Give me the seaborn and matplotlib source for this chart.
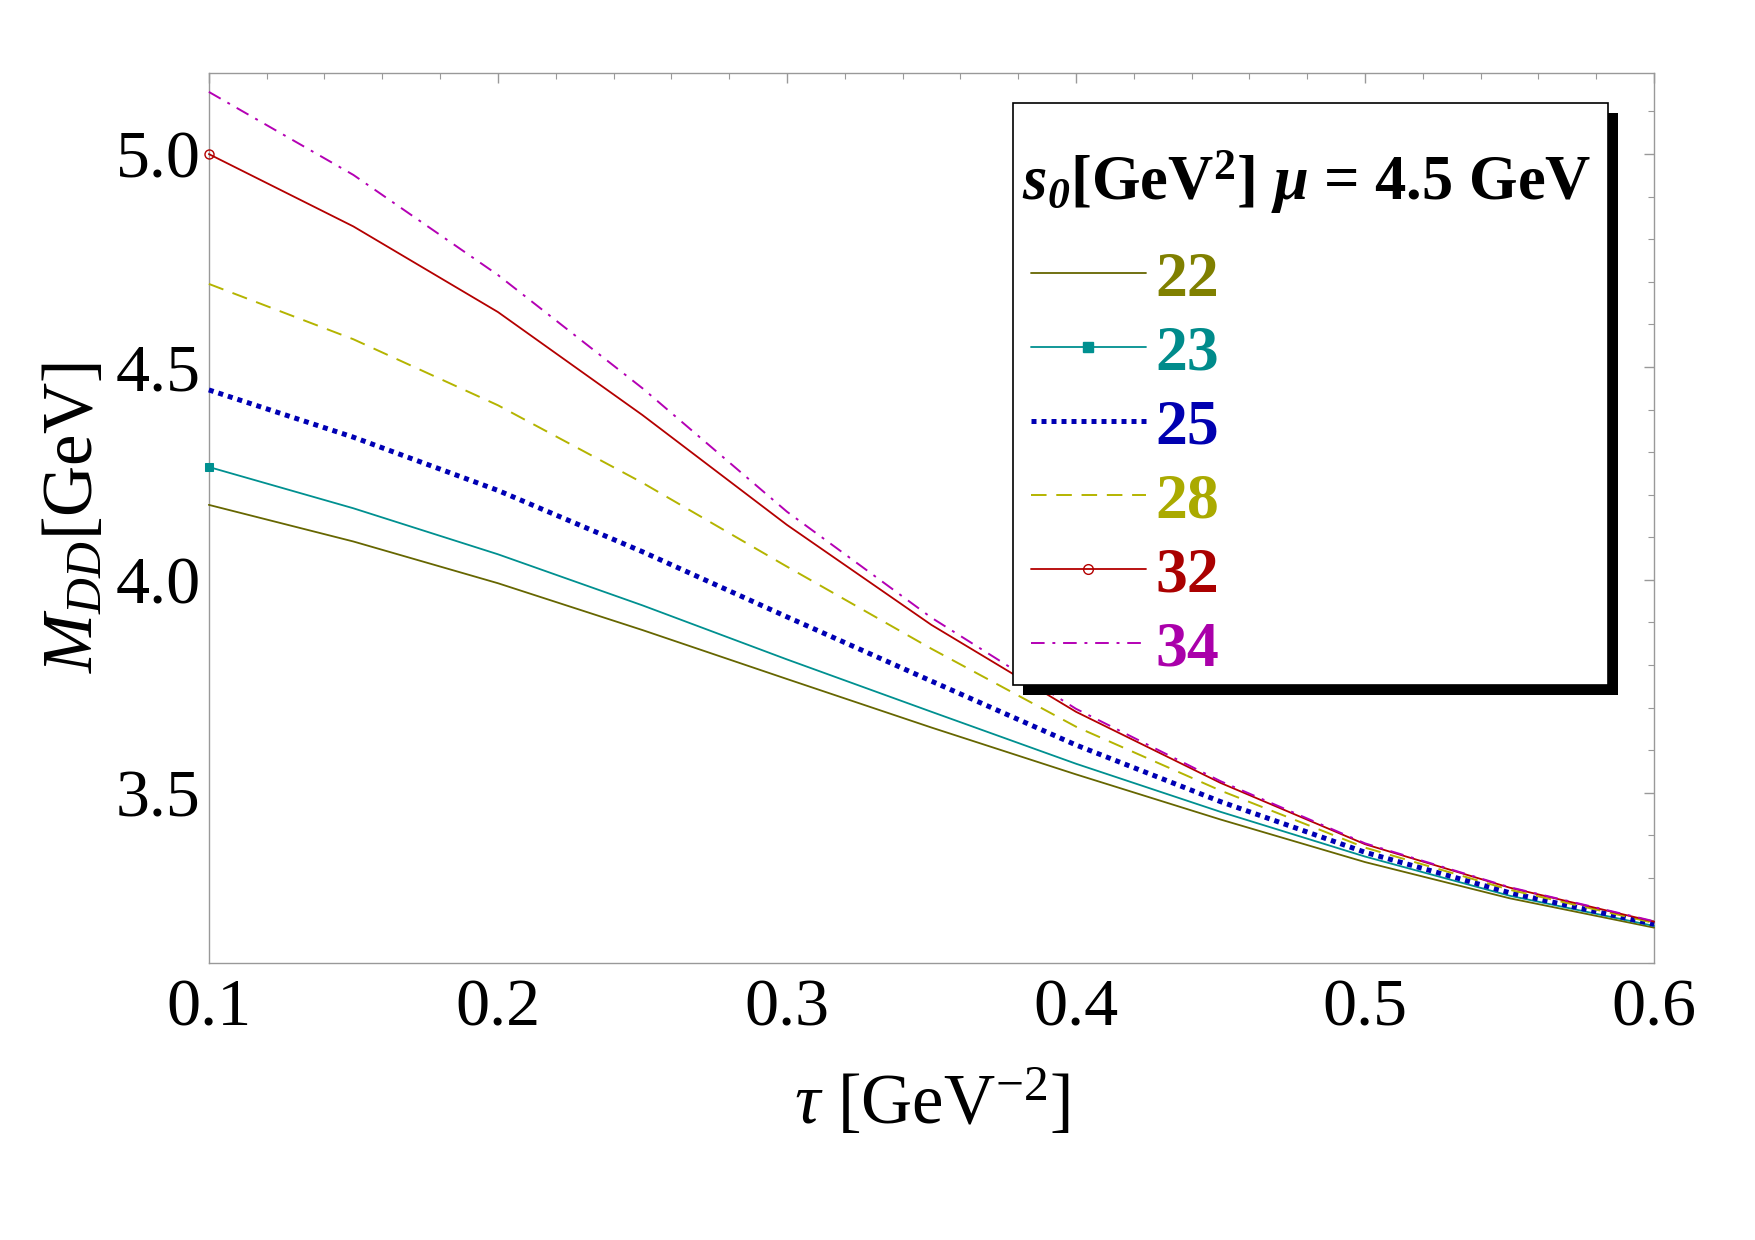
import numpy as np
import pandas as pd
import matplotlib
matplotlib.use('Agg')
import matplotlib.pyplot as plt
import seaborn as sns
from matplotlib.patches import Rectangle
from matplotlib.lines import Line2D
from matplotlib.ticker import MultipleLocator, FormatStrFormatter


# =========================
# Dados
# =========================

tau = [0.10, 0.15, 0.20, 0.25, 0.30, 0.35, 0.40, 0.45, 0.50, 0.55, 0.60]

m_22 = [4.176, 4.090, 3.992, 3.882, 3.767, 3.653, 3.543, 3.437, 3.337, 3.252, 3.183]
m_23 = [4.265, 4.168, 4.060, 3.940, 3.813, 3.690, 3.568, 3.455, 3.350, 3.258, 3.187]
m_25 = [4.446, 4.335, 4.210, 4.066, 3.913, 3.762, 3.612, 3.479, 3.360, 3.265, 3.191]
m_28 = [4.695, 4.565, 4.410, 4.228, 4.031, 3.838, 3.655, 3.505, 3.371, 3.272, 3.194]
m_32 = [5.000, 4.830, 4.629, 4.387, 4.129, 3.894, 3.690, 3.523, 3.379, 3.277, 3.197]
m_34 = [5.146, 4.951, 4.716, 4.450, 4.160, 3.911, 3.697, 3.527, 3.381, 3.278, 3.198]

s0_labels = ['22', '23', '25', '28', '32', '34']
series = [m_22, m_23, m_25, m_28, m_32, m_34]

line_colors = ['#666600', '#009090', '#0000b4', '#b4b400', '#b40000', '#b400b4']
text_colors = ['#808000', '#008b8b', '#0000b0', '#aaaa00', '#aa0000', '#aa00aa']
line_styles = [
    dict(ls='-', lw=1.3),
    dict(ls='-', lw=1.3),
    dict(ls=(0, (1, 1)), lw=3.6),
    dict(ls=(0, (8, 5)), lw=1.4),
    dict(ls='-', lw=1.3),
    dict(ls=(0, (7, 4, 1.5, 4)), lw=1.4),
]
marker_styles = [
    {},
    dict(marker='s', ms=6),
    {},
    {},
    dict(marker='o', ms=6.5, mfc='none', mew=1.0),
    {},
]
legend_markers = [
    {},
    dict(marker='s', ms=7),
    {},
    {},
    dict(marker='o', ms=7, mfc='none', mew=1.0),
    {},
]


# =========================
# Estilo
# =========================

sns.set_theme(style='white')
plt.rcParams['font.family'] = ['Liberation Serif', 'DejaVu Serif']
plt.rcParams['text.color'] = 'black'
plt.rcParams['axes.labelcolor'] = 'black'
plt.rcParams['mathtext.fontset'] = 'custom'
plt.rcParams['mathtext.rm'] = 'Liberation Serif'
plt.rcParams['mathtext.it'] = 'Liberation Serif:italic'
plt.rcParams['mathtext.bf'] = 'Liberation Serif:bold'
plt.rcParams['mathtext.bfit'] = 'Liberation Serif:italic:bold'

fig = plt.figure(figsize=(17.55, 12.40), dpi=100)
ax = fig.add_axes([0.119, 0.2234, 0.8235, 0.7176])

# seaborn põe a borda do marcador em branco por padrão -> usar a cor da linha
for lab, vals, col, st, mk in zip(s0_labels, series, line_colors,
                                  line_styles, marker_styles):
    df = pd.DataFrame({'tau': tau, 'M': vals})
    sns.lineplot(data=df, x='tau', y='M', color=col, ax=ax,
                 legend=False, clip_on=False, zorder=3, mec=col,
                 markevery=[0], **st, **mk)

ax.set_xlim(0.1, 0.6)
ax.set_ylim(3.10, 5.19)

ax.xaxis.set_major_locator(MultipleLocator(0.1))
ax.xaxis.set_minor_locator(MultipleLocator(0.02))
ax.yaxis.set_major_locator(MultipleLocator(0.5))
ax.yaxis.set_minor_locator(MultipleLocator(0.1))
ax.xaxis.set_major_formatter(FormatStrFormatter('%.1f'))
ax.yaxis.set_major_formatter(FormatStrFormatter('%.1f'))

ax.tick_params(which='both', direction='in', top=True, right=True,
               color='#999999', labelsize=49, labelcolor='black')
ax.tick_params(which='major', length=7, width=1)
ax.tick_params(which='minor', length=4, width=0.8)
ax.tick_params(axis='x', pad=11)
ax.tick_params(axis='y', pad=6)

for sp in ax.spines.values():
    sp.set_color('#999999')
    sp.set_linewidth(1.0)

ax.set_xlabel(r'$\tau$ [GeV$^{-2}$]', fontsize=51, labelpad=21)
ax.set_ylabel(r'$M_{DD}$[GeV]', fontsize=51, labelpad=6)


# =========================
# Legenda: moldura, sombra, título e entradas
# =========================

def px_x(px):
    return (px - 209) / 1445


def px_y(py):
    return (963 - py) / 890


box_x0, box_x1 = px_x(1013), px_x(1608)
box_y0, box_y1 = px_y(685), px_y(103)
sh_dx, sh_dy = 10 / 1445, 10 / 890

ax.add_patch(Rectangle((box_x0 + sh_dx, box_y0 - sh_dy), box_x1 - box_x0,
                       box_y1 - box_y0, transform=ax.transAxes,
                       facecolor='black', edgecolor='none', zorder=4.8,
                       clip_on=False))
ax.add_patch(Rectangle((box_x0, box_y0), box_x1 - box_x0, box_y1 - box_y0,
                       transform=ax.transAxes, facecolor='white',
                       edgecolor='black', lw=1.2, zorder=4.9, clip_on=False))

ax.text(px_x(1022), px_y(200),
        r'$\mathbfit{s}_{\mathbfit{0}}$[GeV$^{\mathbf{2}}$] $\mathbfit{\mu}$ = 4.5 GeV',
        transform=ax.transAxes, fontsize=45, fontweight='bold',
        va='baseline', ha='left', zorder=6)

handles = [Line2D([], [], color=c, mec=c, **st, **mk)
           for c, st, mk in zip(line_colors, line_styles, legend_markers)]
leg = ax.legend(handles=handles, labels=s0_labels,
                loc='center left', bbox_to_anchor=(px_x(1031), px_y(465)),
                prop={'weight': 'bold', 'size': 46}, frameon=False,
                numpoints=1, handlelength=1.8, handletextpad=0.15,
                labelspacing=0.237, borderpad=0, borderaxespad=0)
leg.set_zorder(6)
for t, c in zip(leg.get_texts(), text_colors):
    t.set_color(c)

plt.savefig('out.png', dpi=100)
